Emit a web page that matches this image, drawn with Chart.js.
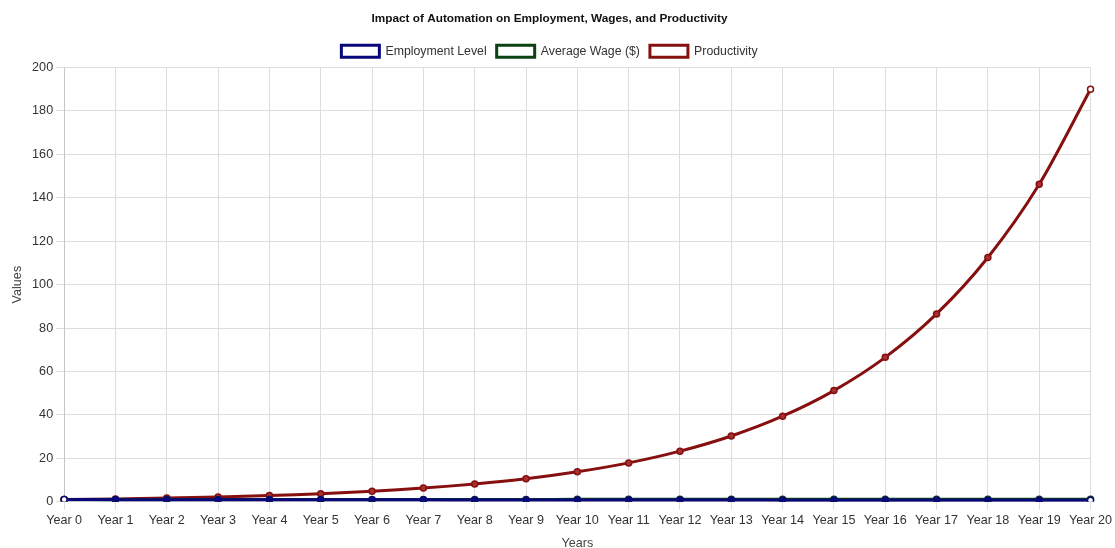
<!DOCTYPE html>
<html>
<head>
<meta charset="utf-8">
<script src="https://cdn.jsdelivr.net/npm/chart.js@4"></script>
<style>
  html, body { margin: 0; padding: 0; background: #fff; }
  #wrap { width: 1115px; height: 548px; }
</style>
</head>
<body>
<div id="wrap"><canvas id="chart"></canvas></div>
<script>
// =====================
// DATA
// =====================
const years = [
  'Year 0','Year 1','Year 2','Year 3','Year 4','Year 5','Year 6','Year 7',
  'Year 8','Year 9','Year 10','Year 11','Year 12','Year 13','Year 14',
  'Year 15','Year 16','Year 17','Year 18','Year 19','Year 20'
];

const employmentLevel = [1, 0.98, 0.96, 0.94, 0.92, 0.9, 0.89, 0.87, 0.85, 0.83, 0.82,
  0.8, 0.78, 0.77, 0.75, 0.74, 0.72, 0.71, 0.69, 0.68, 0.67];

const averageWage = [1, 1.01, 1.02, 1.03, 1.04, 1.05, 1.06, 1.07, 1.08, 1.09, 1.1,
  1.11, 1.12, 1.13, 1.14, 1.15, 1.16, 1.17, 1.18, 1.19, 1.2];

const productivity = [1, 1.3, 1.7, 2.2, 2.9, 3.7, 4.8, 6.3, 8.2, 10.6, 13.8,
  17.9, 23.3, 30.3, 39.4, 51.2, 66.5, 86.5, 112.5, 146.2, 190];

Chart.defaults.font.family = '"Liberation Sans", Arial, sans-serif';
Chart.defaults.color = '#555';

// hollow first/last points, as in the original
function edgePoints(color, n) {
  return Array.from({length: n}, (_, i) => (i === 0 || i === n - 1) ? '#fff' : color);
}

new Chart(document.getElementById('chart'), {
  type: 'line',
  data: {
    labels: years,
    datasets: [
      {
        label: 'Employment Level',
        data: employmentLevel,
        borderColor: '#08087a',
        backgroundColor: '#fff',
        pointBackgroundColor: edgePoints('#08087a', years.length),
        borderWidth: 3,
        pointRadius: 3,
        pointBorderWidth: 1.5,
        tension: 0.3,
        order: 1
      },
      {
        label: 'Average Wage ($)',
        data: averageWage,
        borderColor: '#0b4212',
        backgroundColor: '#fff',
        pointBackgroundColor: edgePoints('#0b4212', years.length),
        borderWidth: 3,
        pointRadius: 3,
        pointBorderWidth: 1.5,
        tension: 0.3,
        order: 2
      },
      {
        label: 'Productivity',
        data: productivity,
        borderColor: '#861010',
        backgroundColor: '#fff',
        pointBackgroundColor: edgePoints('#a83030', years.length),
        borderWidth: 3,
        pointRadius: 3,
        pointBorderWidth: 1.5,
        tension: 0.3,
        order: 3
      }
    ]
  },
  options: {
    responsive: true,
    maintainAspectRatio: false,
    animation: false,
    layout: { padding: { left: 6, right: 22, top: 2, bottom: -3 } },
    plugins: {
      title: {
        display: true,
        text: 'Impact of Automation on Employment, Wages, and Productivity',
        color: '#111',
        font: { size: 11.8, weight: 'bold' },
        padding: { top: 10, bottom: 9 }
      },
      legend: {
        labels: {
          boxWidth: 38,
          boxHeight: 12,
          color: '#333',
          font: { size: 12.3 },
          useBorderRadius: false
        }
      }
    },
    scales: {
      x: {
        title: { display: true, text: 'Years', color: '#444', font: { size: 12.6 }, padding: { top: 5, bottom: 0 } },
        ticks: { color: '#333', font: { size: 12.6 }, maxRotation: 0, autoSkip: false },
        grid: { color: '#ddd' }
      },
      y: {
        min: 0,
        max: 200,
        title: { display: true, text: 'Values', color: '#444', font: { size: 12.6 } },
        ticks: { stepSize: 20, color: '#333', font: { size: 12.6 } },
        grid: { color: '#ddd' }
      }
    }
  }
});
</script>
</body>
</html>
